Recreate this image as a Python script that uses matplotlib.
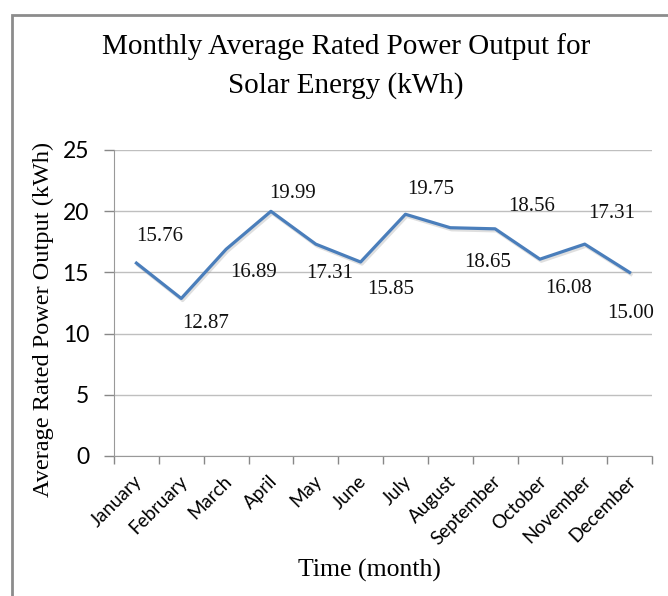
import numpy as np
import matplotlib
matplotlib.use('Agg')
import matplotlib.pyplot as plt
import matplotlib.patheffects as pe
from matplotlib.patches import Rectangle

months = ['January', 'February', 'March', 'April', 'May', 'June',
          'July', 'August', 'September', 'October', 'November', 'December']
power = [15.76, 12.87, 16.89, 19.99, 17.31, 15.85,
         19.75, 18.65, 18.56, 16.08, 17.31, 15.00]
label_text = ['15.76', '12.87', '16.89', '19.99', '17.31', '15.85',
              '19.75', '18.65', '18.56', '16.08', '17.31', '15.00']
y_ticks = [0, 5, 10, 15, 20, 25]

# manual label offsets in pixels (dx, dy down), as in the original chart
offsets = [(23, -27), (24, 25), (27, 23), (22, -18), (14, 29), (30, 28),
           (25, -25), (37, 35), (37, -22), (29, 29), (27, -31), (1, 41)]

serif = 'Liberation Serif'
sans = 'Lato'

fig = plt.figure(figsize=(6.68, 5.96), dpi=100)
fig.patch.set_facecolor('white')
ax = fig.add_axes([114/668, 1-456/596, (652-114)/668, (456-150)/596])

x = np.arange(len(months))
ax.plot(x, power, color='#4a7ebb', lw=2.3, solid_joinstyle='round',
        path_effects=[pe.SimpleLineShadow(offset=(1, -1.5), shadow_color='gray', alpha=0.25),
                      pe.Normal()], zorder=3)

for xi, yi, t, (dx, dy) in zip(x, power, label_text, offsets):
    ax.annotate(t, (xi, yi), xytext=(dx*0.72, -dy*0.72), textcoords='offset points',
                ha='center', va='center', fontsize=15, family=serif, color='#111111')

ax.set_xlim(-0.5, 11.5)
ax.set_ylim(0, 25)
ax.set_yticks(y_ticks)
ax.set_yticklabels([str(v) for v in y_ticks], fontsize=16.5, family=sans)

# month names, rotated like the Excel category axis
ax.set_xticks(x)
ax.set_xticklabels([])
for xi, m in zip(x, months):
    ax.annotate(m, (xi, 0), xycoords=('data', 'axes fraction'), xytext=(-2, -12),
                textcoords='offset points', rotation=45, rotation_mode='anchor',
                ha='right', va='top', fontsize=13.5, family=sans, annotation_clip=False)
ax.set_xticks(np.arange(-0.5, 12, 1), minor=True)
ax.tick_params(axis='x', which='major', length=0)
ax.tick_params(axis='x', which='minor', length=6, color='#888888', width=1)
ax.tick_params(axis='y', length=7, color='#888888', width=1, pad=11)

ax.grid(axis='y', color='#bfbfbf', lw=1)
ax.set_axisbelow(True)
for s in ['top', 'right']:
    ax.spines[s].set_visible(False)
ax.spines['left'].set_color('#999999')
ax.spines['bottom'].set_color('#999999')

fig.text(43/668, 1-319/596, 'Average Rated Power Output (kWh)', rotation=90,
         ha='center', va='center', fontsize=17.5, family=serif)
fig.text(369/668, 1-570/596, 'Time (month)', ha='center', va='center',
         fontsize=18.5, family=serif)

fig.text(346/668, 1-47/596, 'Monthly Average Rated Power Output for',
         ha='center', va='center', fontsize=21, family=serif)
fig.text(346/668, 1-86/596, 'Solar Energy (kWh)',
         ha='center', va='center', fontsize=21, family=serif)

fig.patches.append(Rectangle((12/668, -0.1), 1.2, 1.1 - 15/596, transform=fig.transFigure,
                             fill=False, edgecolor='#8c8c8c', lw=2, clip_on=False))

fig.savefig('out.png', dpi=100)
